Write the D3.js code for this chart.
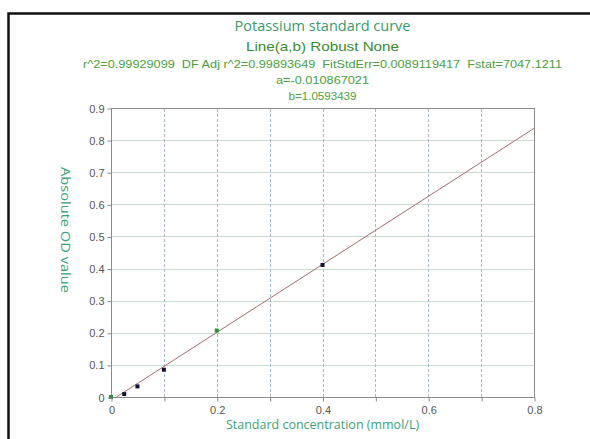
<!DOCTYPE html>
<html>
<head>
<meta charset="utf-8">
<script src="https://cdn.jsdelivr.net/npm/d3@7"></script>
<style>
  body { margin: 0; background: #fff; }
  svg { display: block; }
</style>
</head>
<body>
<div id="chart"></div>
<script>
// standard points (mmol/L, OD)
const concentration = [0, 0.025, 0.05, 0.1, 0.2, 0.4];
const odValue = [0, 0.009, 0.033, 0.085, 0.207, 0.411];
const pointColor = ["#2e8b3e", "#111133", "#111133", "#111133", "#2e8b3e", "#111133"];

const fitA = -0.010867021;
const fitB = 1.0593439;

const titleLines = [
    "Potassium standard curve",
    "Line(a,b) Robust None",
    "r^2=0.99929099  DF Adj r^2=0.99893649  FitStdErr=0.0089119417  Fstat=7047.1211",
    "a=-0.010867021",
    "b=1.0593439"
];
const xTickLabels = [0, 0.2, 0.4, 0.6, 0.8];
const yTickLabels = [0, 0.1, 0.2, 0.3, 0.4, 0.5, 0.6, 0.7, 0.8, 0.9];

const width = 590;
const height = 439;
const margin = {top: 108, right: 56, bottom: 42, left: 111};

const svg = d3.select("#chart").append("svg")
    .attr("width", width)
    .attr("height", height);

// outer frame
svg.append("rect")
    .attr("x", 8.5)
    .attr("y", 13.5)
    .attr("width", 700)
    .attr("height", 600)
    .attr("fill", "none")
    .attr("stroke", "#111")
    .attr("stroke-width", 2.5);

const x = d3.scaleLinear()
    .domain([0, 0.8])
    .range([margin.left, width - margin.right]);

const y = d3.scaleLinear()
    .domain([0, 0.9])
    .range([height - margin.bottom, margin.top]);

const g = svg.append("g");

// grid
g.selectAll(".hgrid")
    .data(d3.range(1, 9).map(i => i / 10))
    .enter()
    .append("line")
    .attr("x1", x(0))
    .attr("x2", x(0.8))
    .attr("y1", d => Math.round(y(d)) + 0.5)
    .attr("y2", d => Math.round(y(d)) + 0.5)
    .attr("stroke", "#cadccf")
    .attr("stroke-width", 1);

g.selectAll(".vgrid")
    .data(d3.range(1, 8).map(i => i / 10))
    .enter()
    .append("line")
    .attr("x1", d => Math.round(x(d)) + 0.5)
    .attr("x2", d => Math.round(x(d)) + 0.5)
    .attr("y1", y(0))
    .attr("y2", y(0.9))
    .attr("stroke", "#a9b8c2")
    .attr("stroke-dasharray", "3,2")
    .attr("stroke-width", 1);

// plot box
g.append("rect")
    .attr("x", x(0) + 0.5)
    .attr("y", y(0.9) + 0.5)
    .attr("width", x(0.8) - x(0))
    .attr("height", y(0) - y(0.9))
    .attr("fill", "none")
    .attr("stroke", "#8a8a8a")
    .attr("stroke-width", 1);

// axes
const xAxis = d3.axisBottom(x)
    .tickValues(d3.range(0, 9).map(i => i / 10))
    .tickSize(4)
    .tickFormat(d => xTickLabels.some(v => Math.abs(v - d) < 1e-9) ? d3.format("")(+d.toFixed(1)) : "");

const yAxis = d3.axisLeft(y)
    .tickValues(yTickLabels)
    .tickSize(4)
    .tickFormat(d => d3.format("")(+d.toFixed(1)));

const gx = svg.append("g")
    .attr("transform", `translate(0.5, ${y(0) + 0.5})`)
    .call(xAxis);
gx.select(".domain").remove();
gx.selectAll("line").attr("stroke", "#8a8a8a");
gx.selectAll("text")
    .attr("fill", "#555")
    .attr("dy", "0.9em")
    .style("font-family", "Liberation Sans, Arial, sans-serif")
    .style("font-size", "11px");

const gy = svg.append("g")
    .attr("transform", `translate(${x(0) + 0.5}, 0.5)`)
    .call(yAxis);
gy.select(".domain").remove();
gy.selectAll("line").attr("stroke", "#8a8a8a");
gy.selectAll("text")
    .attr("fill", "#555")
    .attr("x", -7)
    .style("font-family", "Liberation Sans, Arial, sans-serif")
    .style("font-size", "11px");

// fitted line, drawn from where it crosses zero
const x0 = -fitA / fitB;
g.append("line")
    .attr("x1", x(x0))
    .attr("y1", y(0))
    .attr("x2", x(0.8))
    .attr("y2", y(fitA + fitB * 0.8))
    .attr("stroke", "#a86a6a")
    .attr("stroke-width", 1);

// points
g.selectAll(".pt")
    .data(concentration.map((c, i) => [c, odValue[i], pointColor[i]]))
    .enter()
    .append("rect")
    .attr("x", d => x(d[0]) - 2)
    .attr("y", d => y(d[1]) - 2)
    .attr("width", 4)
    .attr("height", 4)
    .attr("fill", d => d[2]);

// titles
const cx = (x(0) + x(0.8)) / 2;
const titleY = [31, 51, 68, 84, 100];
const titleSize = [14, 13, 10.5, 10.5, 10.5];
const titleLen = [176, 153, 479, 93, 68];
const titleFont = ["Open Sans, sans-serif", "Liberation Sans, Arial, sans-serif",
    "Liberation Sans, Arial, sans-serif", "Liberation Sans, Arial, sans-serif",
    "Liberation Sans, Arial, sans-serif"];
const titleFill = ["#3a9a6a", "#3a8a2e", "#4aa040", "#4aa040", "#4aa040"];
titleLines.forEach((t, i) => {
    svg.append("text")
        .attr("x", cx)
        .attr("y", titleY[i])
        .attr("text-anchor", "middle")
        .attr("fill", titleFill[i])
        .attr("textLength", titleLen[i])
        .attr("lengthAdjust", "spacingAndGlyphs")
        .style("font-family", titleFont[i])
        .style("font-size", titleSize[i] + "px")
        .style("white-space", "pre")
        .text(t);
});

// axis titles
svg.append("text")
    .attr("x", cx)
    .attr("y", 429)
    .attr("text-anchor", "middle")
    .attr("fill", "#3aa078")
    .style("font-family", "Open Sans, sans-serif")
    .style("font-size", "12.5px")
    .text("Standard concentration (mmol/L)");

svg.append("text")
    .attr("transform", `translate(61, 230) rotate(90)`)
    .attr("text-anchor", "middle")
    .attr("fill", "#3aa078")
    .attr("textLength", 126)
    .attr("lengthAdjust", "spacingAndGlyphs")
    .style("font-family", "Open Sans, sans-serif")
    .style("font-size", "12.5px")
    .text("Absolute OD value");
</script>
</body>
</html>
